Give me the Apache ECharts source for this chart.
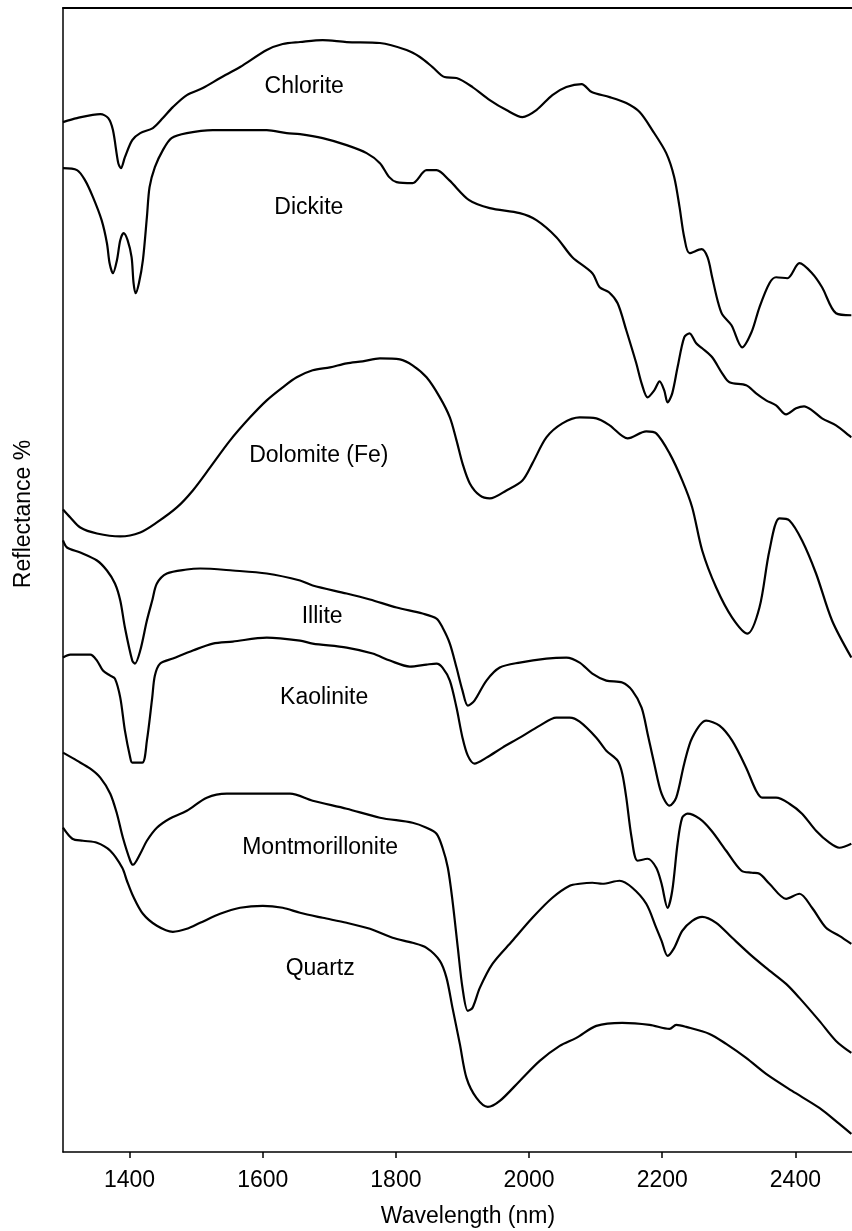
<!DOCTYPE html>
<html><head><meta charset="utf-8">
<script src="https://cdn.jsdelivr.net/npm/echarts@6/dist/echarts.min.js"></script>
<style>html,body{margin:0;padding:0;background:#fff}#c{width:852px;height:1231px}</style>
</head><body><div id="c"></div>
<script>
// Tick labels (nm)
const xTicks = [1400, 1600, 1800, 2000, 2200, 2400];

// Spectra: wavelength (nm) and offset reflectance (arbitrary stacked units)
const chloriteNm = [1300,1321,1356,1368,1375,1383,1387,1393,1404,1416,1435,1450,1465,1486,1510,1536,1566,1606,1630,1656,1690,1726,1776,1816,1836,1855,1873,1891,1915,1941,1966,1990,2011,2035,2056,2079,2094,2121,2146,2166,2185,2206,2218,2226,2233,2241,2259,2268,2275,2283,2290,2304,2320,2334,2346,2361,2371,2388,2406,2425,2440,2461,2484];
const chloriteR  = [1029,1033,1037,1033,1021,988,983,994,1011,1018,1023,1033,1044,1056,1063,1073,1084,1101,1107,1109,1111,1109,1108,1101,1094,1084,1074,1073,1064,1051,1041,1034,1041,1056,1064,1067,1059,1054,1048,1039,1021,998,974,944,914,898,902,894,874,851,837,826,804,819,844,868,874,873,888,878,864,838,836];

const dickiteNm = [1300,1321,1333,1345,1358,1366,1370,1375,1381,1386,1391,1397,1403,1406,1409,1414,1420,1426,1430,1438,1450,1463,1486,1525,1606,1636,1656,1690,1726,1756,1776,1790,1801,1825,1846,1861,1880,1910,1941,1986,2011,2041,2065,2095,2106,2120,2133,2146,2161,2169,2178,2188,2196,2203,2208,2215,2223,2233,2241,2251,2260,2275,2290,2301,2326,2341,2356,2371,2386,2401,2413,2425,2440,2461,2484];
const dickiteR  = [983,981,971,954,931,908,888,878,891,911,918,911,894,868,858,868,891,934,964,984,1001,1013,1018,1021,1021,1018,1017,1013,1006,998,988,974,969,968,981,981,971,951,943,938,931,914,894,878,864,859,848,821,788,768,754,761,770,761,749,758,784,814,818,808,803,794,778,769,766,758,751,746,737,743,745,741,733,726,714];

const dolomiteNm = [1300,1311,1326,1351,1386,1416,1441,1471,1495,1521,1551,1581,1606,1630,1651,1675,1701,1726,1750,1776,1806,1825,1846,1866,1881,1891,1900,1911,1926,1941,1966,1990,2005,2026,2050,2076,2101,2121,2148,2176,2191,2211,2230,2245,2260,2281,2305,2328,2346,2361,2376,2391,2410,2431,2455,2484];
const dolomiteR  = [642,634,624,618,615,619,629,644,661,684,711,734,751,764,774,781,784,788,790,793,792,786,774,754,734,711,688,668,656,653,661,671,688,714,728,734,733,726,713,720,718,698,671,644,601,564,534,518,544,601,633,631,611,578,531,494];

const illiteNm = [1300,1306,1326,1351,1366,1378,1386,1393,1404,1408,1416,1426,1434,1441,1456,1486,1506,1555,1606,1656,1675,1726,1761,1801,1840,1861,1870,1881,1891,1900,1908,1918,1936,1956,1986,2026,2056,2076,2095,2116,2140,2155,2169,2178,2188,2199,2211,2221,2233,2245,2266,2286,2305,2326,2341,2350,2371,2391,2410,2431,2451,2466,2484];
const illiteR  = [611,604,599,591,581,568,551,524,491,488,501,531,551,568,578,582,583,581,578,571,566,558,552,544,538,533,524,508,484,461,446,451,471,484,489,493,494,489,478,471,469,461,444,418,388,358,346,354,388,414,431,426,411,384,361,354,354,348,338,321,309,304,308];

const kaoliniteNm = [1300,1311,1341,1351,1360,1371,1378,1386,1393,1401,1404,1419,1426,1434,1438,1446,1465,1495,1525,1555,1606,1656,1675,1726,1765,1791,1821,1846,1861,1870,1881,1891,1900,1908,1918,1936,1960,1986,2016,2041,2061,2076,2101,2116,2133,2140,2146,2154,2163,2178,2191,2199,2208,2215,2223,2230,2238,2256,2274,2296,2319,2335,2346,2361,2386,2406,2425,2446,2466,2484];
const kaoliniteR  = [494,497,497,491,481,476,473,454,421,394,389,389,411,454,476,488,493,501,508,510,514,511,508,504,498,491,485,487,488,484,471,444,414,396,388,394,404,414,426,434,434,430,414,401,391,378,354,314,291,293,284,268,244,261,308,334,338,333,321,301,281,279,278,268,253,258,244,224,216,208];

const montNm = [1300,1321,1341,1356,1371,1381,1390,1401,1405,1416,1426,1441,1460,1486,1516,1546,1606,1641,1675,1726,1776,1825,1846,1861,1870,1878,1885,1893,1900,1908,1915,1926,1945,1975,2005,2035,2061,2076,2095,2110,2136,2155,2176,2191,2199,2208,2218,2230,2245,2260,2281,2305,2331,2356,2386,2406,2436,2461,2484];
const montR  = [399,391,383,374,358,338,314,291,287,298,311,324,333,341,354,358,358,358,351,343,334,329,324,318,304,284,251,204,164,141,144,164,188,211,234,254,266,268,269,268,271,264,248,224,211,196,204,221,231,235,229,214,198,184,168,154,131,111,99];

const quartzNm = [1300,1314,1330,1351,1371,1389,1396,1405,1420,1441,1465,1486,1506,1536,1566,1600,1630,1656,1690,1726,1761,1795,1825,1846,1866,1876,1885,1896,1906,1921,1938,1956,1986,2016,2046,2071,2101,2140,2181,2211,2221,2236,2271,2296,2326,2356,2395,2436,2466,2484];
const quartzR  = [324,313,311,309,301,284,271,256,238,226,220,223,229,238,244,246,244,239,234,229,223,214,209,204,191,174,144,108,74,54,45,51,71,91,106,114,126,129,127,123,127,125,118,108,94,78,61,44,28,18];

// Curve labels and their anchor positions (data coordinates)
const labelNames = ['Chlorite','Dickite','Dolomite (Fe)','Illite','Kaolinite','Montmorillonite','Quartz'];
const labelNm    = [1663,1670,1685,1690,1693,1687,1687];
const labelR     = [1064,943,695,534,453,304,183];

const FONT = '"Liberation Sans", Arial, sans-serif';
const pairs = (xs, ys) => xs.map((x, i) => [x, ys[i]]);
const curves = [
  ['Chlorite', chloriteNm, chloriteR],
  ['Dickite', dickiteNm, dickiteR],
  ['Dolomite (Fe)', dolomiteNm, dolomiteR],
  ['Illite', illiteNm, illiteR],
  ['Kaolinite', kaoliniteNm, kaoliniteR],
  ['Montmorillonite', montNm, montR],
  ['Quartz', quartzNm, quartzR]
];

const series = curves.map(([name, xs, ys]) => ({
  name, type: 'line', data: pairs(xs, ys), showSymbol: false, smooth: 0.3,
  lineStyle: { color: '#000', width: 2.2 }, itemStyle: { color: '#000' },
  clip: true, silent: true, animation: false
}));
series.push({
  type: 'scatter', symbolSize: 1, itemStyle: { color: '#fff', opacity: 0 }, silent: true, animation: false,
  data: labelNames.map((n, i) => ({ name: n, value: [labelNm[i], labelR[i]] })),
  label: { show: true, position: [0, 0], align: 'center', verticalAlign: 'middle', formatter: '{b}',
           fontSize: 23, color: '#000', opacity: 1, textBorderWidth: 0, fontFamily: FONT },
  emphasis: { disabled: true }
});

const chart = echarts.init(document.getElementById('c'), null, { renderer: 'canvas' });
chart.setOption({
  backgroundColor: '#fff',
  animation: false,
  grid: { left: 63, right: 0, top: 8, bottom: 79, containLabel: false },
  xAxis: [{
    type: 'value', min: 1300, max: 2485, position: 'bottom',
    axisLine: { show: true, lineStyle: { color: '#000', width: 1.5 } },
    axisTick: { show: true, customValues: xTicks, length: 6, inside: false, lineStyle: { color: '#000', width: 1.5 } },
    axisLabel: { show: true, customValues: xTicks, formatter: v => String(v), fontSize: 23, color: '#000', margin: 17, fontFamily: FONT },
    splitLine: { show: false }
  }, {
    type: 'value', min: 1300, max: 2485, position: 'top',
    axisLine: { show: true, onZero: false, lineStyle: { color: '#000', width: 2 } },
    axisTick: { show: false }, axisLabel: { show: false }, splitLine: { show: false }
  }],
  yAxis: {
    type: 'value', min: 0, max: 1143,
    axisLine: { show: true, onZero: false, lineStyle: { color: '#000', width: 1.5 } },
    axisTick: { show: false }, axisLabel: { show: false }, splitLine: { show: false }
  },
  graphic: [
    { type: 'text', x: 468, y: 1217, silent: true,
      style: { text: 'Wavelength (nm)', fontSize: 23, fontFamily: FONT, fill: '#000', align: 'center', verticalAlign: 'middle', textAlign: 'center', textVerticalAlign: 'middle' } },
    { type: 'text', x: 24, y: 514, rotation: Math.PI / 2, silent: true,
      style: { text: 'Reflectance %', fontSize: 23, fontFamily: FONT, fill: '#000', align: 'center', verticalAlign: 'middle', textAlign: 'center', textVerticalAlign: 'middle' } }
  ],
  series
});
</script>
</body></html>
